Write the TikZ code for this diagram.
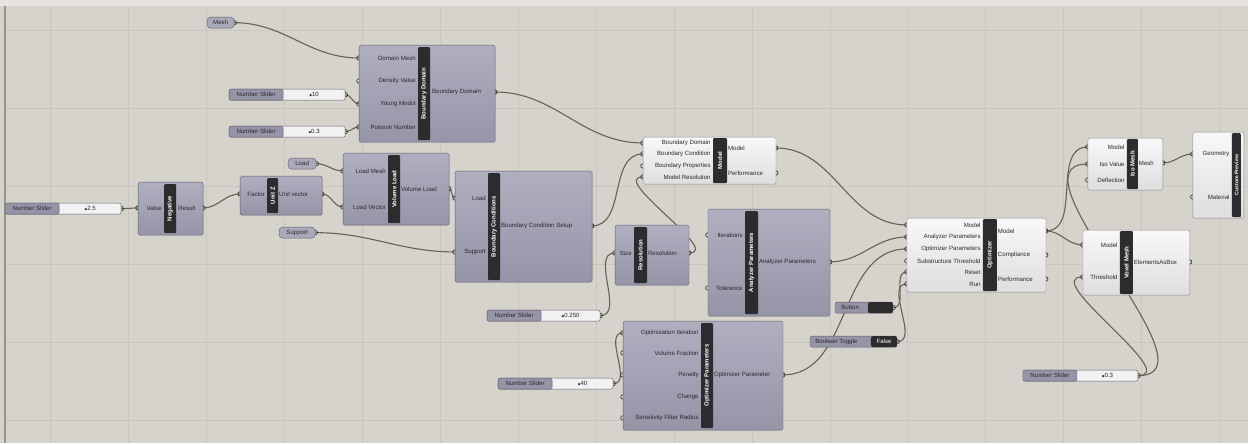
\documentclass[tikz,border=0pt]{standalone}
\usepackage{fontspec}
\newfontfamily\ghfont{Liberation Sans}
\newfontfamily\ghsym{DejaVu Sans}
\usepackage{tikz}
\usetikzlibrary{positioning, backgrounds}

\definecolor{canvas}{RGB}{214,211,204}
\definecolor{gridc}{RGB}{202,198,191}
\definecolor{comptop}{RGB}{176,175,192}
\definecolor{compbot}{RGB}{150,149,168}
\definecolor{compline}{RGB}{96,95,110}
\definecolor{lighttop}{RGB}{248,248,248}
\definecolor{lightbot}{RGB}{222,222,222}
\definecolor{lightline}{RGB}{140,140,140}
\definecolor{bandc}{RGB}{44,44,46}
\definecolor{labelc}{RGB}{40,40,45}
\definecolor{wirec}{RGB}{104,98,84}
\definecolor{slvalc}{RGB}{242,242,242}
\definecolor{pillfill}{RGB}{170,169,186}

\begin{document}
\begin{tikzpicture}[
    x=1pt, y=-1pt,
    font=\ghfont\fontsize{6.1}{6.5}\selectfont,
    comp/.style={draw=compline, top color=comptop, bottom color=compbot,
      rounded corners=1.5pt, anchor=north west, inner sep=0pt},
    light/.style={comp, draw=lightline, top color=lighttop, bottom color=lightbot},
    band/.style={fill=bandc, rounded corners=1pt, anchor=north west,
      inner sep=0pt, minimum width=12},
    bandtxt/.style={rotate=90, text=white, inner sep=0pt,
      font=\ghfont\fontsize{6}{6.5}\selectfont\bfseries},
    inlbl/.style={anchor=east, inner sep=1pt, text=labelc},
    outlbl/.style={anchor=west, inner sep=1pt, text=labelc},
    pill/.style={draw=compline, fill=pillfill, rounded corners=3.5pt,
      anchor=north west, minimum height=11, inner sep=0pt, text=labelc},
    slider/.style={draw=compline, fill=slvalc, rounded corners=2pt,
      anchor=north west, minimum height=11, inner sep=0pt},
    slname/.style={draw=compline, fill=compbot, rounded corners=2pt,
      anchor=west, minimum height=11, minimum width=54, inner sep=0pt, text=labelc},
    darkpart/.style={fill=bandc, rounded corners=2pt, anchor=east,
      minimum height=11, inner sep=0pt, text=white},
    wire/.style={draw=wirec, line width=1.1pt, out=0, in=180},
    grip/.style={draw=labelc, line width=0.6pt},
  ]

  % canvas
  \begin{pgfonlayer}{background}
    \fill[canvas] (0,0) rectangle (1248,443);
    \fill[canvas!60!white] (0,0) rectangle (1248,6);
    \foreach \x in {50,128,...,1220}
      \draw[gridc, line width=0.6pt] (\x,6) -- (\x,443);
    \foreach \y in {30,108,...,420}
      \draw[gridc, line width=0.6pt] (5,\y) -- (1248,\y);
    \draw[canvas!70!black, line width=1.5pt] (5,6) -- (5,443);
  \end{pgfonlayer}
  \useasboundingbox (0,0) rectangle (1248,443);

  % parameters
  \node[pill, minimum width=27] (mesh) at (207,17) {Mesh};
  \node[pill, minimum width=28] (load) at (288,158) {Load};
  \node[pill, minimum width=36] (support) at (279,227) {Support};

  % sliders
  \node[slider, minimum width=116] (sy) at (229,89) {};
  \node[slname] at (sy.west) {Number Slider};
  \node[text=labelc] at ([xshift=27]sy.center) {{\ghsym\fontsize{3.5}{4}\selectfont◆}10};
  \node[slider, minimum width=116] (sp) at (229,126) {};
  \node[slname] at (sp.west) {Number Slider};
  \node[text=labelc] at ([xshift=27]sp.center) {{\ghsym\fontsize{3.5}{4}\selectfont◆}0.3};
  \node[slider, minimum width=116] (sn) at (5,203) {};
  \node[slname] at (sn.west) {Number Slider};
  \node[text=labelc] at ([xshift=27]sn.center) {{\ghsym\fontsize{3.5}{4}\selectfont◆}2.5};
  \node[slider, minimum width=113] (sr) at (487,310) {};
  \node[slname] at (sr.west) {Number Slider};
  \node[text=labelc] at ([xshift=27]sr.center) {{\ghsym\fontsize{3.5}{4}\selectfont◆}0.250};
  \node[slider, minimum width=115] (so) at (498,378) {};
  \node[slname] at (so.west) {Number Slider};
  \node[text=labelc] at ([xshift=27]so.center) {{\ghsym\fontsize{3.5}{4}\selectfont◆}40};
  \node[slider, minimum width=115] (st) at (1023,370) {};
  \node[slname] at (st.west) {Number Slider};
  \node[text=labelc] at ([xshift=27]st.center) {{\ghsym\fontsize{3.5}{4}\selectfont◆}0.3};

  % button and toggle
  \node[slider, fill=compbot, minimum width=58] (button) at (835,302) {};
  \node[darkpart, minimum width=25] at (button.east) {};
  \node[text=labelc, anchor=west] at ([xshift=3]button.west) {Button};
  \node[slider, fill=compbot, minimum width=87] (toggle) at (810,336) {};
  \node[darkpart, minimum width=26] at (toggle.east) {False};
  \node[text=labelc, anchor=west] at ([xshift=2]toggle.west) {Boolean Toggle};

  % Boundary Domain
  \node[comp, minimum width=136, minimum height=97] (bd) at (359,45) {};
  \node[band, minimum height=93] (bd-b) at (418,47) {};
  \node[bandtxt] at (bd-b) {Boundary Domain};
  \foreach \y/\t [count=\i] in {58/Domain Mesh, 81/Density Value, 104/Young Modul, 127/Poisson Number}
    {\node[inlbl] at (417,\y) {\t}; \coordinate (bd-i\i) at (359,\y);}
  \node[outlbl] at (431,92) {Boundary Domain}; \coordinate (bd-o1) at (495,92);

  % Negative
  \node[comp, minimum width=65, minimum height=53] (neg) at (138,182) {};
  \node[band, minimum height=49] (neg-b) at (164,184) {};
  \node[bandtxt] at (neg-b) {Negative};
  \node[inlbl] at (163,208) {Value}; \coordinate (neg-i1) at (138,208);
  \node[outlbl] at (177,208) {Result}; \coordinate (neg-o1) at (203,208);

  % Unit Z
  \node[comp, minimum width=82, minimum height=39] (unz) at (240,176) {};
  \node[band, minimum height=35, minimum width=11] (unz-b) at (267,178) {};
  \node[bandtxt] at (unz-b) {Unit Z};
  \node[inlbl] at (266,194) {Factor}; \coordinate (unz-i1) at (240,194);
  \node[outlbl] at (278,194) {Unit vector}; \coordinate (unz-o1) at (322,194);

  % Volume Load
  \node[comp, minimum width=106, minimum height=72] (vl) at (343,153) {};
  \node[band, minimum height=68] (vl-b) at (388,155) {};
  \node[bandtxt] at (vl-b) {Volume Load};
  \foreach \y/\t [count=\i] in {171/Load Mesh, 207/Load Vector}
    {\node[inlbl] at (387,\y) {\t}; \coordinate (vl-i\i) at (343,\y);}
  \node[outlbl] at (400,189) {Volume Load}; \coordinate (vl-o1) at (449,189);

  % Boundary Conditions
  \node[comp, minimum width=137, minimum height=111] (bc) at (455,171) {};
  \node[band, minimum height=107] (bc-b) at (488,173) {};
  \node[bandtxt] at (bc-b) {Boundary Conditions};
  \foreach \y/\t [count=\i] in {198/Load, 252/Support}
    {\node[inlbl] at (487,\y) {\t}; \coordinate (bc-i\i) at (455,\y);}
  \node[outlbl] at (500,226) {Boundary Condition Setup}; \coordinate (bc-o1) at (592,226);

  % Model
  \node[light, minimum width=133, minimum height=47] (mdl) at (643,137) {};
  \node[band, minimum height=45, minimum width=14] (mdl-b) at (713,138) {};
  \node[bandtxt] at (mdl-b) {Model};
  \foreach \y/\t [count=\i] in {143/Boundary Domain, 154/Boundary Condition, 166/Boundary Properties, 177/Model Resolution}
    {\node[inlbl] at (712,\y) {\t}; \coordinate (mdl-i\i) at (643,\y);}
  \foreach \y/\t [count=\i] in {148/Model, 173/Performance}
    {\node[outlbl] at (727,\y) {\t}; \coordinate (mdl-o\i) at (776,\y);}

  % Resolution
  \node[comp, minimum width=74, minimum height=60] (res) at (615,225) {};
  \node[band, minimum height=56, minimum width=13] (res-b) at (634,227) {};
  \node[bandtxt] at (res-b) {Resolution};
  \node[inlbl] at (633,253) {Size}; \coordinate (res-i1) at (615,253);
  \node[outlbl] at (647,253) {Resolution}; \coordinate (res-o1) at (689,253);

  % Analyzer Parameters
  \node[comp, minimum width=122, minimum height=107] (ap) at (708,209) {};
  \node[band, minimum height=103, minimum width=13] (ap-b) at (745,211) {};
  \node[bandtxt] at (ap-b) {Analyzer Parameters};
  \foreach \y/\t [count=\i] in {235/Iterations, 288/Tolerance}
    {\node[inlbl] at (744,\y) {\t}; \coordinate (ap-i\i) at (708,\y);}
  \node[outlbl] at (758,262) {Analyzer Parameters}; \coordinate (ap-o1) at (830,262);

  % Optimizer Parameters
  \node[comp, minimum width=160, minimum height=109] (op) at (623,321) {};
  \node[band, minimum height=105] (op-b) at (701,323) {};
  \node[bandtxt] at (op-b) {Optimizer Parameters};
  \foreach \y/\t [count=\i] in {333/Optimization Iteration, 353/Volume Fraction, 375/Penalty, 397/Change, 418/Sensitivity Filter Radius}
    {\node[inlbl] at (700,\y) {\t}; \coordinate (op-i\i) at (623,\y);}
  \node[outlbl] at (713,375) {Optimizer Parameter}; \coordinate (op-o1) at (783,375);

  % Optimizer
  \node[light, minimum width=139, minimum height=74] (opt) at (907,218) {};
  \node[band, minimum height=72, minimum width=14] (opt-b) at (983,219) {};
  \node[bandtxt] at (opt-b) {Optimizer};
  \foreach \y/\t [count=\i] in {225/Model, 237/Analyzer Parameters, 249/Optimizer Parameters, 261/Substructure Threshold, 272/Reset, 284/Run}
    {\node[inlbl] at (982,\y) {\t}; \coordinate (opt-i\i) at (907,\y);}
  \foreach \y/\t [count=\i] in {231/Model, 255/Compliance, 279/Performance}
    {\node[outlbl] at (997,\y) {\t}; \coordinate (opt-o\i) at (1046,\y);}

  % Iso Mesh
  \node[light, minimum width=75, minimum height=52] (iso) at (1088,138) {};
  \node[band, minimum height=50, minimum width=11] (iso-b) at (1127,139) {};
  \node[bandtxt] at (iso-b) {Iso Mesh};
  \foreach \y/\t [count=\i] in {147/Model, 164/Iso Value, 180/Deflection}
    {\node[inlbl] at (1126,\y) {\t}; \coordinate (iso-i\i) at (1088,\y);}
  \node[outlbl] at (1138,163) {Mesh}; \coordinate (iso-o1) at (1163,163);

  % Custom Preview
  \node[light, minimum width=51, minimum height=86] (cp) at (1193,132) {};
  \node[band, minimum height=84, minimum width=9] (cp-b) at (1232,133) {};
  \node[bandtxt, font=\ghfont\fontsize{5.2}{6}\selectfont\bfseries] at (cp-b) {Custom Preview};
  \foreach \y/\t [count=\i] in {154/Geometry, 197/Material}
    {\node[inlbl] at (1231,\y) {\t}; \coordinate (cp-i\i) at (1193,\y);}

  % Voxel Mesh
  \node[light, minimum width=107, minimum height=65] (vm) at (1083,230) {};
  \node[band, minimum height=63, minimum width=13] (vm-b) at (1120,231) {};
  \node[bandtxt] at (vm-b) {Voxel Mesh};
  \foreach \y/\t [count=\i] in {245/Model, 277/Threshold}
    {\node[inlbl] at (1119,\y) {\t}; \coordinate (vm-i\i) at (1083,\y);}
  \node[outlbl] at (1133,262) {ElementsAsBox}; \coordinate (vm-o1) at (1190,262);

  % port grips
  \foreach \p in {bd-i1,bd-i2,bd-i3,bd-i4,neg-i1,unz-i1,vl-i1,vl-i2,bc-i1,bc-i2,
      mdl-i1,mdl-i2,mdl-i3,mdl-i4,res-i1,ap-i1,ap-i2,op-i1,op-i2,op-i3,op-i4,op-i5,
      opt-i1,opt-i2,opt-i3,opt-i4,opt-i5,opt-i6,iso-i1,iso-i2,iso-i3,cp-i1,cp-i2,vm-i1,vm-i2}
    \draw[grip] (\p) ++(0,-2.2) arc[start angle=90, end angle=270, radius=2.2pt];
  \foreach \p in {bd-o1,neg-o1,unz-o1,vl-o1,bc-o1,mdl-o1,mdl-o2,res-o1,ap-o1,op-o1,
      opt-o1,opt-o2,opt-o3,iso-o1,vm-o1,mesh.east,load.east,support.east,sy.east,sp.east,
      sn.east,sr.east,so.east,st.east,button.east,toggle.east}
    \draw[grip] (\p) ++(0,2.2) arc[start angle=-90, end angle=90, radius=2.2pt];

  % wires
  \begin{pgfonlayer}{background}
    \draw[wire] (mesh.east) to (bd-i1);
    \draw[wire] (sy.east) to (bd-i3);
    \draw[wire] (sp.east) to (bd-i4);
    \draw[wire] (bd-o1) to (mdl-i1);
    \draw[wire] (sn.east) to (neg-i1);
    \draw[wire] (neg-o1) to (unz-i1);
    \draw[wire] (load.east) to (vl-i1);
    \draw[wire] (unz-o1) to (vl-i2);
    \draw[wire] (vl-o1) to (bc-i1);
    \draw[wire] (support.east) to (bc-i2);
    \draw[wire] (bc-o1) to (mdl-i2);
    \draw[wire] (res-o1) to (mdl-i4);
    \draw[wire] (sr.east) to (res-i1);
    \draw[wire] (mdl-o1) to (opt-i1);
    \draw[wire] (ap-o1) to (opt-i2);
    \draw[wire] (op-o1) to (opt-i3);
    \draw[wire] (button.east) to (opt-i5);
    \draw[wire] (toggle.east) to (opt-i6);
    \draw[wire] (so.east) to (op-i1);
    \draw[wire] (opt-o1) to (iso-i1);
    \draw[wire] (opt-o1) to (vm-i1);
    \draw[wire] (st.east) to (iso-i2);
    \draw[wire] (st.east) to (vm-i2);
    \draw[wire] (iso-o1) to (cp-i1);
  \end{pgfonlayer}
\end{tikzpicture}
\end{document}
